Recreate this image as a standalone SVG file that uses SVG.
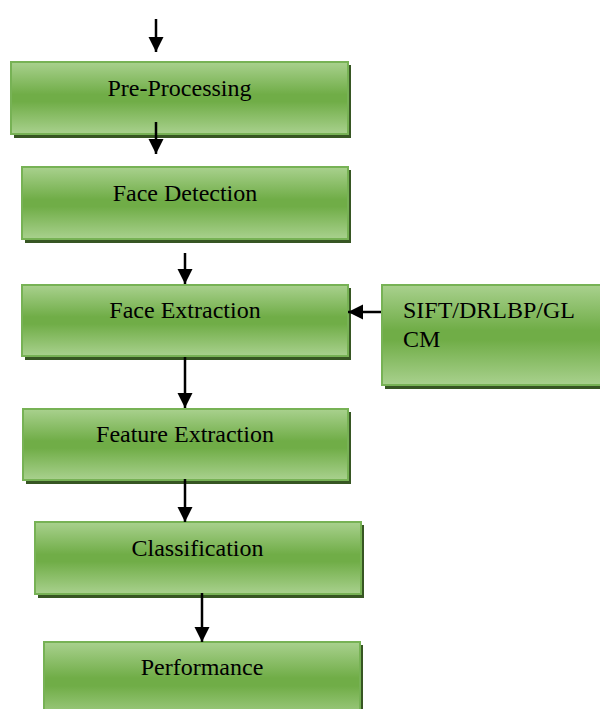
<svg xmlns="http://www.w3.org/2000/svg" width="600" height="709" viewBox="0 0 600 709">
<defs>
<linearGradient id="g" x1="0" y1="0" x2="0" y2="1">
<stop offset="0" stop-color="#a9d18e"/>
<stop offset="0.45" stop-color="#70ad47"/>
<stop offset="0.55" stop-color="#70ad47"/>
<stop offset="1" stop-color="#a9d18e"/>
</linearGradient>
<marker id="ah" markerUnits="userSpaceOnUse" markerWidth="16" markerHeight="16" refX="15" refY="7.5" orient="auto">
<path d="M0,0 L15,7.5 L0,15 Z" fill="#000"/>
</marker>
<style>
.sh{fill:#375623}
.bx{fill:url(#g);stroke:#77b255;stroke-width:2}
.t{font-family:"Liberation Serif","Times New Roman",serif;font-size:24px;fill:#000}
.c{stroke:#000;stroke-width:2.5;fill:none}
</style>
</defs>
<rect width="600" height="709" fill="#fff"/>
<g id="n1">
<rect class="sh" x="14" y="65" width="337" height="73"/>
<rect class="bx" x="11" y="62" width="337" height="72"/>
<text class="t" x="179.5" y="96" text-anchor="middle">Pre-Processing</text>
</g>
<g id="n2">
<rect class="sh" x="25" y="170" width="326" height="73"/>
<rect class="bx" x="22" y="167" width="326" height="72"/>
<text class="t" x="185" y="201" text-anchor="middle">Face Detection</text>
</g>
<g id="n3">
<rect class="sh" x="25" y="288" width="326" height="72"/>
<rect class="bx" x="22" y="285" width="326" height="71"/>
<text class="t" x="185" y="318" text-anchor="middle">Face Extraction</text>
</g>
<g id="n4">
<rect class="sh" x="385" y="288" width="220" height="101"/>
<rect class="bx" x="382" y="285" width="228" height="100"/>
<text class="t" x="403" y="318">SIFT/DRLBP/GL</text>
<text class="t" x="403" y="347">CM</text>
</g>
<g id="n5">
<rect class="sh" x="26" y="412" width="325" height="72"/>
<rect class="bx" x="23" y="409" width="325" height="71"/>
<text class="t" x="185" y="442" text-anchor="middle">Feature Extraction</text>
</g>
<g id="n6">
<rect class="sh" x="38" y="525" width="326" height="73"/>
<rect class="bx" x="35" y="522" width="326" height="72"/>
<text class="t" x="197.5" y="556" text-anchor="middle">Classification</text>
</g>
<g id="n7">
<rect class="sh" x="47" y="645" width="316" height="80"/>
<rect class="bx" x="44" y="642" width="316" height="80"/>
<text class="t" x="202" y="675" text-anchor="middle">Performance</text>
</g>
<g id="connectors">
<line class="c" x1="156" y1="19" x2="156" y2="52" marker-end="url(#ah)"/>
<line class="c" x1="156" y1="122" x2="156" y2="154" marker-end="url(#ah)"/>
<line class="c" x1="185" y1="253" x2="185" y2="284" marker-end="url(#ah)"/>
<line class="c" x1="381" y1="312" x2="348" y2="312" marker-end="url(#ah)"/>
<line class="c" x1="185" y1="357" x2="185" y2="408" marker-end="url(#ah)"/>
<line class="c" x1="185" y1="479" x2="185" y2="522" marker-end="url(#ah)"/>
<line class="c" x1="202" y1="593" x2="202" y2="642" marker-end="url(#ah)"/>
</g>
</svg>
